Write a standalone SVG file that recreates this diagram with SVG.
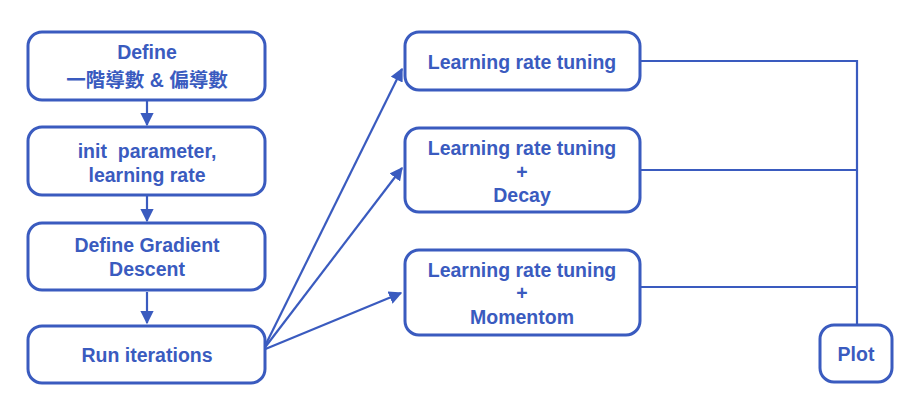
<svg xmlns="http://www.w3.org/2000/svg" width="924" height="411" viewBox="0 0 924 411">
<style>
.box{fill:#fff;stroke:#3A5BBF;stroke-width:3}
.t{font-family:"Liberation Sans","Noto Sans CJK TC",Arial,sans-serif;font-weight:bold;font-size:19.5px;fill:#3A5BBF;text-anchor:middle}
.ln{stroke:#3A5BBF;stroke-width:2.2;fill:none}
</style>
<defs>
<marker id="ah" viewBox="0 0 10 10" refX="9" refY="5" markerWidth="6" markerHeight="6" orient="auto" markerUnits="strokeWidth">
<path d="M0,0 L10,5 L0,10 z" fill="#3A5BBF"/>
</marker>
</defs>
<rect width="924" height="411" fill="#fff"/>
<g id="connectors">
<line class="ln" x1="147" y1="101" x2="147" y2="125" marker-end="url(#ah)"/>
<line class="ln" x1="147" y1="196" x2="147" y2="221" marker-end="url(#ah)"/>
<line class="ln" x1="147" y1="292" x2="147" y2="323" marker-end="url(#ah)"/>
<line class="ln" x1="263" y1="350" x2="402" y2="69" marker-end="url(#ah)"/>
<line class="ln" x1="263" y1="350" x2="402" y2="168" marker-end="url(#ah)"/>
<line class="ln" x1="263" y1="350" x2="401" y2="293" marker-end="url(#ah)"/>
<polyline class="ln" points="641,61 857,61 857,325"/>
<line class="ln" x1="641" y1="170" x2="857" y2="170"/>
<line class="ln" x1="641" y1="287" x2="857" y2="287"/>
</g>
<g id="n1"><rect class="box" x="28" y="32" width="237" height="68" rx="14"/>
<text class="t" x="147" y="59">Define</text><text class="t" x="147" y="87">一階導數 &amp; 偏導數</text></g>
<g id="n2"><rect class="box" x="28" y="127" width="237" height="68" rx="14"/>
<text class="t" x="147" y="158" xml:space="preserve">init  parameter,</text><text class="t" x="147" y="182">learning rate</text></g>
<g id="n3"><rect class="box" x="28" y="223" width="237" height="67" rx="14"/>
<text class="t" x="147" y="252">Define Gradient</text><text class="t" x="147" y="276">Descent</text></g>
<g id="n4"><rect class="box" x="28" y="326" width="237" height="57" rx="14"/>
<text class="t" x="147" y="362">Run iterations</text></g>
<g id="nA"><rect class="box" x="405" y="32" width="235" height="58" rx="14"/>
<text class="t" x="522" y="69">Learning rate tuning</text></g>
<g id="nB"><rect class="box" x="405" y="128" width="235" height="84" rx="14"/>
<text class="t" x="522" y="155">Learning rate tuning</text><text class="t" x="522" y="179">+</text><text class="t" x="522" y="202">Decay</text></g>
<g id="nC"><rect class="box" x="405" y="250" width="235" height="85" rx="14"/>
<text class="t" x="522" y="277">Learning rate tuning</text><text class="t" x="522" y="300">+</text><text class="t" x="522" y="324">Momentom</text></g>
<g id="nP"><rect class="box" x="820" y="325" width="72" height="57" rx="14"/>
<text class="t" x="856" y="361">Plot</text></g>
</svg>
